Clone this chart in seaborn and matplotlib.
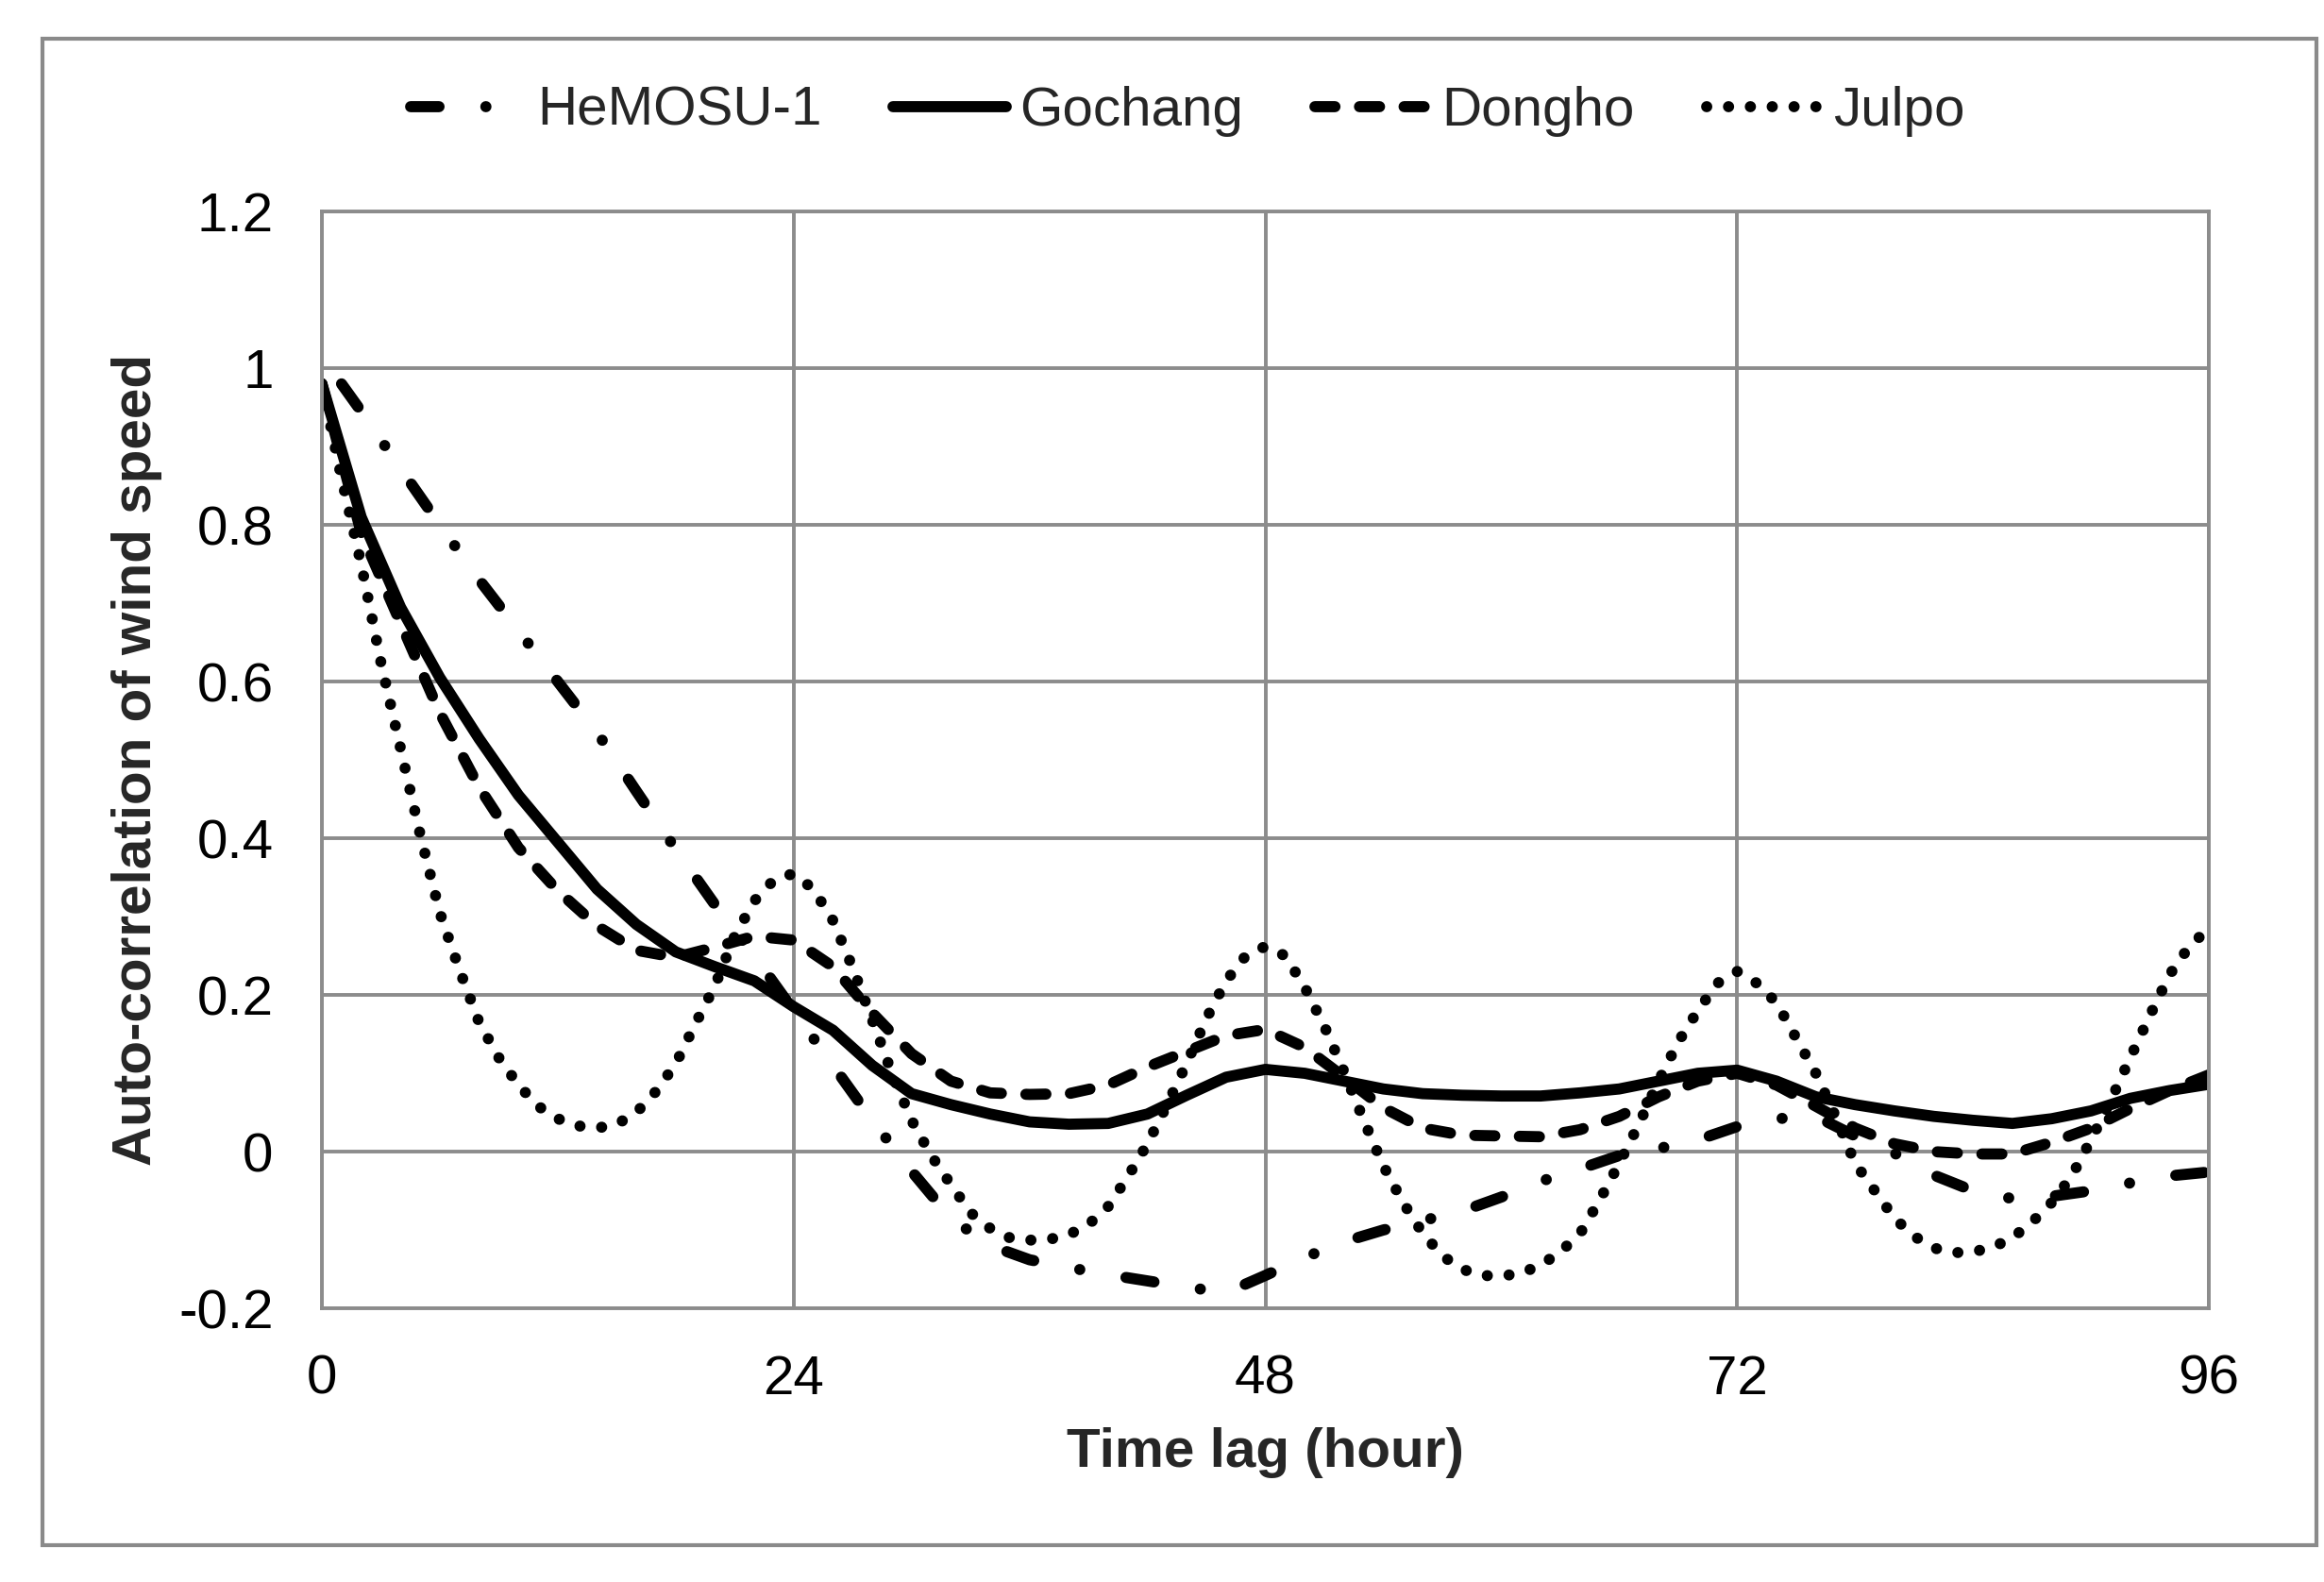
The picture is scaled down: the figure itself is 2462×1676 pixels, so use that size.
import pandas as pd
import matplotlib
matplotlib.use('Agg')
import matplotlib.pyplot as plt
import seaborn as sns
from matplotlib.patches import Rectangle

lag_2h = list(range(0, 97, 2))
lag_1h = list(range(0, 97))
lag_hemosu = [1] + list(range(2, 97, 2))

hemosu = [0.98, 0.945, 0.872, 0.80, 0.73, 0.665, 0.60, 0.535, 0.46, 0.386, 0.315,
          0.25, 0.18, 0.11, 0.04, -0.025, -0.085, -0.12, -0.138, -0.148, -0.157,
          -0.165, -0.173, -0.18, -0.158, -0.135, -0.115, -0.10, -0.088, -0.076,
          -0.058, -0.038, -0.022, -0.005, 0.004, 0.015, 0.032, 0.042, 0.045, 0.02,
          -0.002, -0.03, -0.05, -0.06, -0.057, -0.05, -0.04, -0.031, -0.026]

gochang = [0.98, 0.81, 0.695, 0.605, 0.527, 0.455, 0.395, 0.335, 0.29, 0.255, 0.236,
           0.218, 0.185, 0.155, 0.11, 0.074, 0.06, 0.048, 0.038, 0.035, 0.036, 0.048,
           0.072, 0.095, 0.105, 0.10, 0.09, 0.08, 0.074, 0.072, 0.071, 0.071, 0.075,
           0.08, 0.09, 0.10, 0.104, 0.09, 0.07, 0.06, 0.052, 0.045, 0.04, 0.036,
           0.042, 0.052, 0.068, 0.078, 0.086]

dongho = [0.98, 0.79, 0.675, 0.56, 0.465, 0.388, 0.333, 0.288, 0.257, 0.248, 0.261,
          0.275, 0.27, 0.236, 0.177, 0.125, 0.09, 0.075, 0.073, 0.074, 0.085, 0.108,
          0.128, 0.148, 0.156, 0.133, 0.095, 0.056, 0.03, 0.021, 0.02, 0.019, 0.028,
          0.045, 0.07, 0.09, 0.10, 0.085, 0.058, 0.03, 0.01, 0.0, -0.003, -0.003,
          0.012, 0.03, 0.055, 0.078, 0.098]

julpo = [0.98, 0.86, 0.75, 0.625, 0.515, 0.405, 0.305, 0.232, 0.165, 0.12, 0.085,
         0.058, 0.042, 0.033, 0.03, 0.035, 0.05, 0.077, 0.112, 0.163, 0.212, 0.275,
         0.32, 0.347, 0.355, 0.335, 0.295, 0.235, 0.168, 0.10, 0.04, -0.005, -0.042,
         -0.078, -0.098, -0.11, -0.113, -0.112, -0.106, -0.093, -0.07, -0.032, 0.01,
         0.06, 0.113, 0.17, 0.218, 0.25, 0.262, 0.25, 0.21, 0.16, 0.102, 0.04,
         -0.018, -0.065, -0.104, -0.133, -0.15, -0.158, -0.159, -0.155, -0.145,
         -0.128, -0.105, -0.062, -0.015, 0.035, 0.09, 0.14, 0.18, 0.215, 0.23, 0.215,
         0.19, 0.145, 0.10, 0.045, -0.015, -0.05, -0.085, -0.108, -0.123, -0.129,
         -0.128, -0.122, -0.11, -0.09, -0.065, -0.032, 0.015, 0.065, 0.12, 0.174,
         0.226, 0.262, 0.285]

stations = ['HeMOSU-1', 'Gochang', 'Dongho', 'Julpo']
x_ticks = [0, 24, 48, 72, 96]
y_ticks = [-0.2, 0, 0.2, 0.4, 0.6, 0.8, 1, 1.2]
y_tick_labels = ['-0.2', '0', '0.2', '0.4', '0.6', '0.8', '1', '1.2']

df = pd.concat([
    pd.DataFrame({'lag': lag_hemosu, 'acf': hemosu, 'station': 'HeMOSU-1'}),
    pd.DataFrame({'lag': lag_2h, 'acf': gochang, 'station': 'Gochang'}),
    pd.DataFrame({'lag': lag_2h, 'acf': dongho, 'station': 'Dongho'}),
    pd.DataFrame({'lag': lag_1h, 'acf': julpo, 'station': 'Julpo'}),
], ignore_index=True)

sns.set_style("whitegrid", {'grid.color': '#8c8c8c', 'axes.edgecolor': '#8c8c8c'})
plt.rcParams['font.family'] = ['Liberation Sans', 'DejaVu Sans']

gray = '#8c8c8c'
fig = plt.figure(figsize=(24.62, 16.76), dpi=100)
fig.add_artist(Rectangle((0.0183, 0.0233), 0.9785, 0.9522, transform=fig.transFigure,
                         fill=False, edgecolor='#8a8a8a', lw=3))
ax = fig.add_axes([0.1385, 0.173, 0.812, 0.6933])

# dash lengths in units of line width
dashes = {'HeMOSU-1': (2.55, 4.2, 0.01, 4.2), 'Gochang': '',
          'Dongho': (1.8, 2.2), 'Julpo': (0.01, 1.95)}
sns.lineplot(data=df, x='lag', y='acf', style='station', style_order=stations,
             dashes=dashes, color='black', linewidth=8.5, errorbar=None,
             legend=False, ax=ax)

lines = ax.get_lines()
for ln in lines:
    ln.set_dash_capstyle('round')
    ln.set_solid_capstyle('round')
    ln.set_dash_joinstyle('round')
    ln.set_solid_joinstyle('round')

ax.set_xlim(0, 96)
ax.set_ylim(-0.2, 1.2)
ax.set_xticks(x_ticks)
ax.set_xticklabels([str(t) for t in x_ticks])
ax.set_yticks(y_ticks)
ax.set_yticklabels(y_tick_labels)
ax.grid(True, color=gray, lw=2.8)
ax.set_axisbelow(True)
for s in ax.spines.values():
    s.set_color(gray)
    s.set_linewidth(2.8)
ax.tick_params(axis='both', which='major', direction='out', length=11, width=2.8,
               color=gray, labelsize=42, labelcolor='black')
ax.tick_params(axis='y', pad=26)
ax.tick_params(axis='x', pad=24)
ax.set_xlabel('Time lag (hour)', fontsize=42, fontweight='bold', labelpad=17)
ax.set_ylabel('Auto-correlation of wind speed', fontsize=42, fontweight='bold', labelpad=12)

fig.legend(handles=lines, labels=stations, loc='center', bbox_to_anchor=(0.511, 0.9296),
           ncol=4, frameon=False, fontsize=42, handlelength=2.05, handletextpad=0.25,
           columnspacing=1.3)

fig.savefig('out.png', dpi=100, facecolor='white')
